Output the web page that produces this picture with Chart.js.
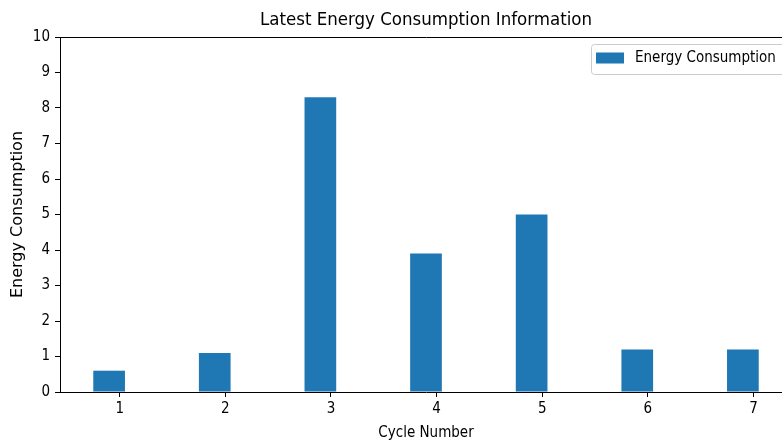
<!DOCTYPE html>
<html>
<head>
<meta charset="utf-8">
<script src="https://cdn.jsdelivr.net/npm/chart.js@4/dist/chart.umd.min.js"></script>
<style>
  html, body { margin: 0; padding: 0; background: #fff; overflow: hidden; }
  #wrap { width: 800px; height: 445px; }
</style>
</head>
<body>
<div id="wrap"><canvas id="c" width="800" height="445"></canvas></div>
<script>
const cycles = [1, 2, 3, 4, 5, 6, 7];
const energy = [0.6, 1.1, 8.3, 3.9, 5.0, 1.2, 1.2];
const yTicks = [0, 1, 2, 3, 4, 5, 6, 7, 8, 9, 10];
const seriesLabel = 'Energy Consumption';
const titleText = 'Latest Energy Consumption Information';
const xTitle = 'Cycle Number';
const yTitle = 'Energy Consumption';

const COND = "'DejaVu Sans Condensed', 'DejaVu Sans', sans-serif";
const BLUE = '#1f77b4';

// Center the title over the plot area (as matplotlib does)
const titleOverPlot = {
  id: 'titleOverPlot',
  afterLayout(chart) {
    const tb = chart.titleBlock;
    if (tb) {
      tb.left = chart.chartArea.left;
      tb.right = chart.chartArea.right;
      tb.width = tb.right - tb.left;
    }
  }
};

const innerLegend = {
  id: 'innerLegend',
  afterDraw(chart) {
    const ctx = chart.ctx;
    const a = chart.chartArea;
    const ds = chart.data.datasets[0];
    const right = a.right - 7;
    const left = 591;
    const top = a.top + 7.5;
    const h = 30;
    ctx.save();
    ctx.beginPath();
    ctx.roundRect(left + 0.5, top, right - left, h, 3);
    ctx.fillStyle = 'rgba(255,255,255,0.8)';
    ctx.fill();
    ctx.strokeStyle = '#cccccc';
    ctx.lineWidth = 1;
    ctx.stroke();
    ctx.fillStyle = ds.backgroundColor;
    ctx.fillRect(left + 5, top + 8, 28, 11);
    ctx.fillStyle = '#000';
    ctx.font = "15px " + COND;
    ctx.textBaseline = 'middle';
    ctx.textAlign = 'left';
    ctx.fillText(ds.label, left + 44, top + 14);
    ctx.restore();
  }
};

new Chart(document.getElementById('c'), {
  type: 'bar',
  data: {
    datasets: [{
      label: seriesLabel,
      data: cycles.map((c, i) => ({ x: c - 0.1, y: energy[i] })),
      backgroundColor: BLUE,
      borderWidth: 0,
      inflateAmount: 0,
      categoryPercentage: 1,
      barPercentage: 0.3,
      xAxisID: 'x',
      yAxisID: 'y'
    }]
  },
  options: {
    responsive: false,
    devicePixelRatio: 1,
    animation: false,
    layout: { padding: { left: 0, right: 8, top: 0, bottom: 0 } },
    plugins: {
      legend: { display: false },
      tooltip: { enabled: false },
      title: {
        display: true,
        text: titleText,
        color: '#000',
        font: { family: COND, size: 18.5, weight: 'normal' },
        padding: { top: 9, bottom: 5.8 }
      }
    },
    scales: {
      x: {
        type: 'linear',
        position: 'bottom',
        offset: false,
        min: 0.435,
        max: 7.365,
        afterBuildTicks: (s) => { s.ticks = cycles.map(v => ({ value: v })); },
        afterFit: (s) => { s.height = 53; },
        ticks: {
          color: '#000',
          font: { family: COND, size: 15 },
          padding: 3,
          maxRotation: 0,
          autoSkip: false
        },
        grid: { display: true, offset: false, drawOnChartArea: false, drawTicks: true, tickLength: 5, color: '#000' },
        border: { display: true, color: '#000', width: 1 },
        title: {
          display: true,
          text: xTitle,
          color: '#000',
          font: { family: COND, size: 15 },
          padding: { top: 0, bottom: 3 }
        }
      },
      x2: {
        type: 'linear',
        position: 'top',
        offset: false,
        min: 0,
        max: 1,
        afterFit: (s) => { s.height = 0; },
        ticks: { display: false },
        grid: { display: false },
        border: { display: true, color: '#000', width: 1 }
      },
      y: {
        type: 'linear',
        position: 'left',
        min: 0,
        max: 10,
        afterBuildTicks: (s) => { s.ticks = yTicks.map(v => ({ value: v })); },
        afterFit: (s) => { s.width = 60; },
        ticks: {
          color: '#000',
          font: { family: COND, size: 15 },
          padding: 5
        },
        grid: { display: true, drawOnChartArea: false, drawTicks: true, tickLength: 5, color: '#000' },
        border: { display: true, color: '#000', width: 1 },
        title: {
          display: true,
          text: yTitle,
          color: '#000',
          font: { family: "'DejaVu Sans', sans-serif", size: 16 },
          padding: { top: 8.4, bottom: 0 }
        }
      }
    }
  },
  plugins: [titleOverPlot, innerLegend]
});
</script>
</body>
</html>
